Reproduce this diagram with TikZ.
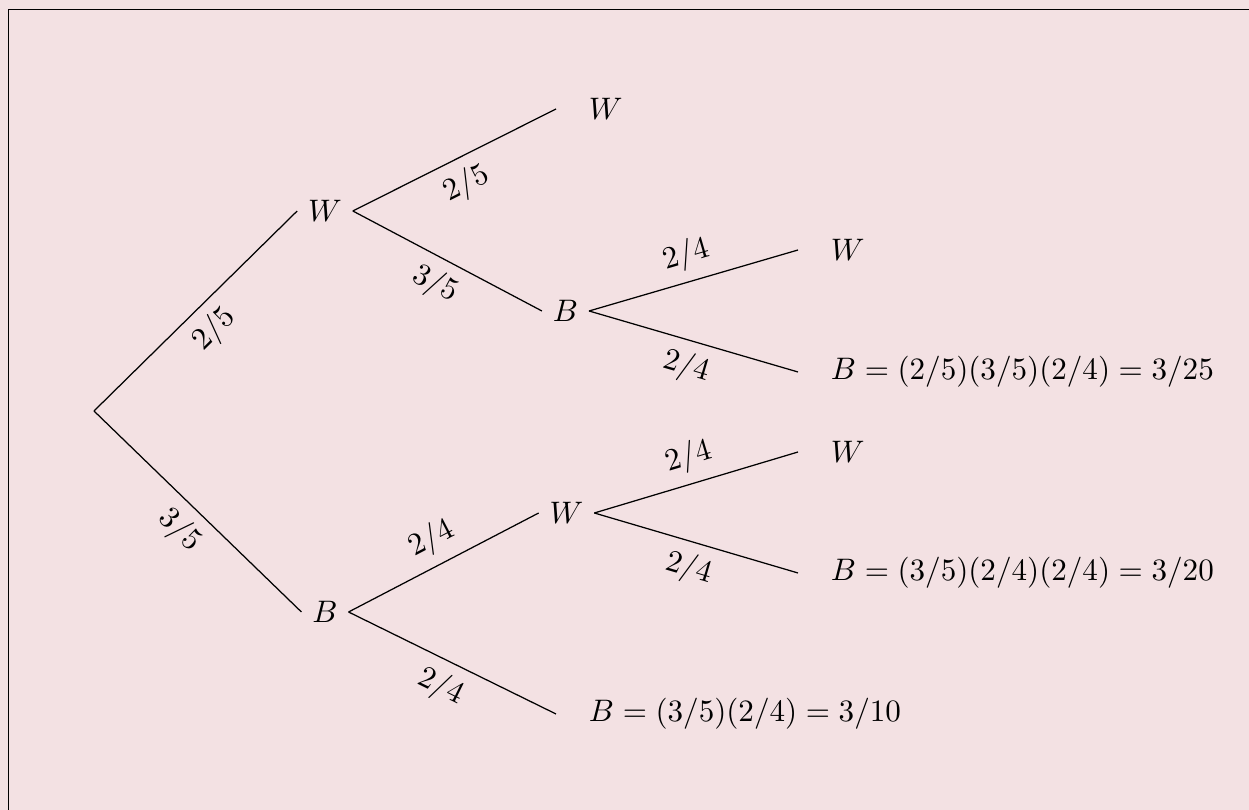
\documentclass[tikz,border=0pt]{standalone}
\definecolor{bg}{RGB}{243,225,227}
\begin{document}
\begin{tikzpicture}[x=0.3215pt,y=-0.3215pt,
  inode/.style={inner sep=3.33pt},
  leaf/.style={anchor=west, inner xsep=10.4pt},
  branch/.style={line width=0.4pt},
  lab/.style={midway, sloped, inner sep=3.33pt}]
\fill[bg] (0,0) rectangle (1249,810);
\useasboundingbox (0,0) rectangle (1249,810);
\clip (0,0) rectangle (1249,810);
\draw[line width=0.5pt] (8.5,9.5) rectangle (1300,860);
% nodes
\coordinate (r) at (94,411);
\node[inode] (W1) at (325,211) {$W$};
\node[inode] (B1) at (325,612) {$B$};
\node[inode] (B2) at (565.5,311) {$B$};
\node[inode] (W2) at (566.5,513) {$W$};
\node[leaf] (L1) at (556,109) {$W$};
\node[leaf] (L2) at (798,250) {$W$};
\node[leaf] (L3) at (798,372) {$B=(2/5)(3/5)(2/4)=3/25$};
\node[leaf] (L4) at (798,452) {$W$};
\node[leaf] (L5) at (798,573) {$B=(3/5)(2/4)(2/4)=3/20$};
\node[leaf] (L6) at (556,714) {$B=(3/5)(2/4)=3/10$};
% branches
\draw[branch] (r) -- node[lab, below] {$2/5$} (W1.west);
\draw[branch] (r) -- node[lab, below] {$3/5$} (B1.west);
\draw[branch] (W1.east) -- node[lab, below] {$2/5$} (L1.west);
\draw[branch] (W1.east) -- node[lab, below] {$3/5$} (B2.west);
\draw[branch] (B2.east) -- node[lab, above] {$2/4$} (L2.west);
\draw[branch] (B2.east) -- node[lab, below] {$2/4$} (L3.west);
\draw[branch] (B1.east) -- node[lab, above] {$2/4$} (W2.west);
\draw[branch] (B1.east) -- node[lab, below] {$2/4$} (L6.west);
\draw[branch] (W2.east) -- node[lab, above] {$2/4$} (L4.west);
\draw[branch] (W2.east) -- node[lab, below] {$2/4$} (L5.west);
\end{tikzpicture}
\end{document}
